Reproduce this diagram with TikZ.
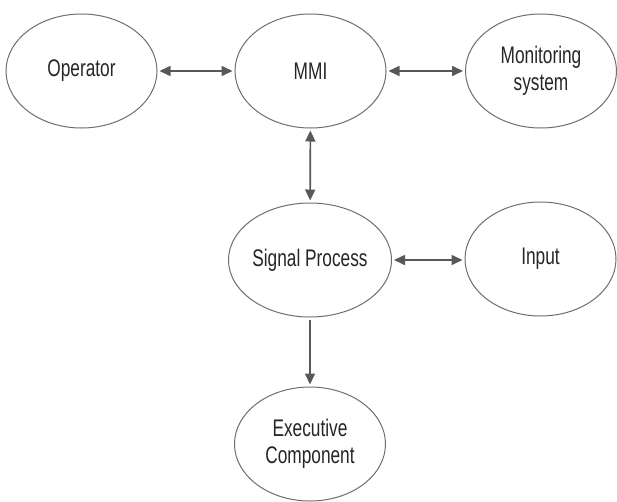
\documentclass[tikz,border=0pt]{standalone}
\usepackage{fontspec}
\setmainfont{Liberation Sans}[FakeStretch=0.72]
\usetikzlibrary{shapes.geometric,arrows.meta}
\definecolor{edgegray}{HTML}{6E6E6E}
\definecolor{arrowgray}{HTML}{585858}
\definecolor{textgray}{HTML}{262626}
\tikzset{
  bubble/.style={ellipse, draw=edgegray, line width=1pt, fill=white,
    minimum width=151pt, minimum height=114pt, inner sep=0pt,
    align=center, text=textgray,
    font=\fontsize{24}{27}\selectfont},
  link/.style={draw=arrowgray, line width=1.6pt, shorten <=2pt, shorten >=2pt,
    -{Triangle[length=11pt,width=10pt]}},
  biglink/.style={link, {Triangle[length=11pt,width=10pt]}-{Triangle[length=11pt,width=10pt]}}
}
\begin{document}
\begin{tikzpicture}[x=1pt,y=-1pt]
  \useasboundingbox (0,0) rectangle (617,501);
  \node[bubble] (op)   at (81.5,71)  {Operator};
  \node[bubble] (mmi)  at (310.5,71) {MMI};
  \node[bubble] (mon)  at (541,71)   {Monitoring\\system};
  \node[bubble] (sig)  at (310,260)  {Signal Process};
  \node[bubble] (inp)  at (540.5,259) {Input};
  \node[bubble] (exe)  at (310,444)  {Executive\\Component};

  \draw[biglink] (op) -- (mmi);
  \draw[biglink] (mmi) -- (mon);
  \draw[biglink] (mmi) -- (sig);
  \draw[biglink] (sig.east) -- (inp.west |- sig.east);
  \draw[link] (sig) -- (exe);
\end{tikzpicture}
\end{document}
